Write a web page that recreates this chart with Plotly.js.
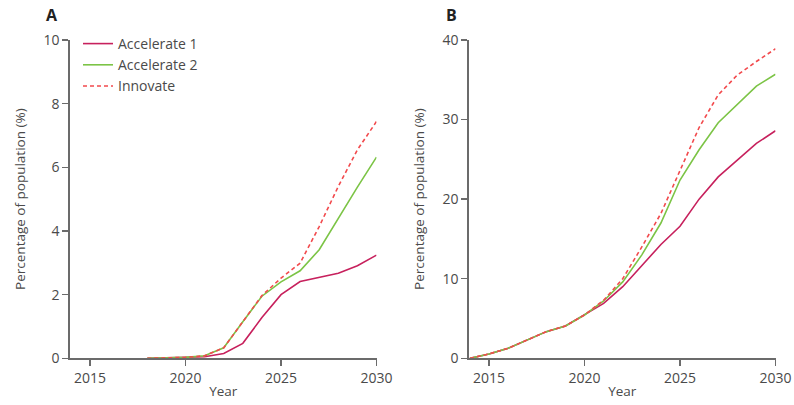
<!DOCTYPE html>
<html>
<head>
<meta charset="utf-8">
<script src="https://cdn.plot.ly/plotly-3.0.1.min.js"></script>
<style>html,body{margin:0;padding:0;background:#fff;}#chart{width:794px;height:405px;}</style>
</head>
<body>
<div id="chart"></div>
<script>
// Panel A data (years 2018-2030)
const yearsA = [2018, 2019, 2020, 2021, 2022, 2023, 2024, 2025, 2026, 2027, 2028, 2029, 2030];
const accel1A = [0, 0.01, 0.02, 0.05, 0.15, 0.47, 1.28, 2.0, 2.41, 2.53, 2.67, 2.91, 3.24];
const accel2A = [0, 0.01, 0.03, 0.08, 0.33, 1.15, 1.95, 2.4, 2.75, 3.41, 4.4, 5.38, 6.32];
const innovA  = [0, 0.01, 0.03, 0.08, 0.33, 1.15, 1.97, 2.52, 2.99, 4.14, 5.4, 6.55, 7.44];

// Panel B data (years 2014-2030)
const yearsB = [2014, 2015, 2016, 2017, 2018, 2019, 2020, 2021, 2022, 2023, 2024, 2025, 2026, 2027, 2028, 2029, 2030];
const accel1B = [0, 0.55, 1.26, 2.3, 3.35, 4.06, 5.44, 6.9, 9.0, 11.7, 14.3, 16.6, 20.0, 22.8, 24.9, 27.0, 28.6];
const accel2B = [0, 0.55, 1.26, 2.3, 3.35, 4.06, 5.44, 7.2, 9.6, 13.0, 17.0, 22.4, 26.2, 29.6, 31.95, 34.2, 35.7];
const innovB  = [0, 0.55, 1.26, 2.3, 3.35, 4.06, 5.44, 7.3, 10.0, 14.0, 18.2, 23.6, 29.0, 33.1, 35.6, 37.3, 38.9];

const names = ['Accelerate 1', 'Accelerate 2', 'Innovate'];
const tickYears = [2015, 2020, 2025, 2030];
const ticksA = [0, 2, 4, 6, 8, 10];
const ticksB = [0, 10, 20, 30, 40];

const cA1 = '#c7215d', cA2 = '#7cc446', cIn = '#f24a4d';
const lw = 1.6;
const dashIn = '4px,3px';

const traces = [
  {x: yearsA, y: accel1A, name: names[0], mode: 'lines', line: {color: cA1, width: lw}, xaxis: 'x', yaxis: 'y'},
  {x: yearsA, y: accel2A, name: names[1], mode: 'lines', line: {color: cA2, width: lw}, xaxis: 'x', yaxis: 'y'},
  {x: yearsA, y: innovA, name: names[2], mode: 'lines', line: {color: cIn, width: lw, dash: dashIn}, xaxis: 'x', yaxis: 'y'},
  {x: yearsB, y: accel1B, name: names[0], mode: 'lines', line: {color: cA1, width: lw}, xaxis: 'x2', yaxis: 'y2', showlegend: false},
  {x: yearsB, y: accel2B, name: names[1], mode: 'lines', line: {color: cA2, width: lw}, xaxis: 'x2', yaxis: 'y2', showlegend: false},
  {x: yearsB, y: innovB, name: names[2], mode: 'lines', line: {color: cIn, width: lw, dash: dashIn}, xaxis: 'x2', yaxis: 'y2', showlegend: false}
];

const font = {family: 'Open Sans, Lato, sans-serif', size: 13, color: '#4a4a4a'};
const axisCommon = {
  showline: true, linecolor: '#6b6b6b', linewidth: 1.6,
  ticks: 'outside', ticklen: 6, tickwidth: 1.4, tickcolor: '#6b6b6b',
  showgrid: false, zeroline: false, tickfont: {family: font.family, size: 14, color: '#4a4a4a'}
};
const ydom = [(405 - 358.3) / 405, (405 - 40) / 405];

const layout = {
  width: 794, height: 405,
  margin: {l: 0, r: 0, t: 0, b: 0},
  paper_bgcolor: '#fff', plot_bgcolor: '#fff',
  font: font,
  showlegend: true,
  legend: {x: 78 / 794, y: 1 - 28 / 405, xanchor: 'left', yanchor: 'top', bgcolor: 'rgba(0,0,0,0)',
           font: {family: font.family, size: 14, color: '#4a4a4a'}, tracegroupgap: 0, itemwidth: 30},
  xaxis: Object.assign({}, axisCommon, {domain: [70 / 794, 376.5 / 794], range: [2013.95, 2030], tickvals: tickYears,
    title: {text: 'Year', font: {size: 13.5, color: '#4a4a4a'}, standoff: 1}, anchor: 'y'}),
  yaxis: Object.assign({}, axisCommon, {domain: ydom, range: [0, 10], tickvals: ticksA,
    title: {text: 'Percentage of population (%)', font: {size: 13.5, color: '#4a4a4a'}, standoff: 15}, anchor: 'x'}),
  xaxis2: Object.assign({}, axisCommon, {domain: [469 / 794, 775.5 / 794], range: [2013.95, 2030], tickvals: tickYears,
    title: {text: 'Year', font: {size: 13.5, color: '#4a4a4a'}, standoff: 1}, anchor: 'y2'}),
  yaxis2: Object.assign({}, axisCommon, {domain: ydom, range: [0, 40], tickvals: ticksB,
    title: {text: 'Percentage of population (%)', font: {size: 13.5, color: '#4a4a4a'}, standoff: 15}, anchor: 'x2'}),
  annotations: [
    {text: '<b>A</b>', xref: 'paper', yref: 'paper', x: 52 / 794, y: 1 - 15 / 405, xanchor: 'center', yanchor: 'middle', showarrow: false,
     font: {family: font.family, size: 16, color: '#222'}},
    {text: '<b>B</b>', xref: 'paper', yref: 'paper', x: 451 / 794, y: 1 - 15 / 405, xanchor: 'center', yanchor: 'middle', showarrow: false,
     font: {family: font.family, size: 16, color: '#222'}}
  ]
};

Plotly.newPlot('chart', traces, layout, {displayModeBar: false, staticPlot: true});
</script>
</body>
</html>
